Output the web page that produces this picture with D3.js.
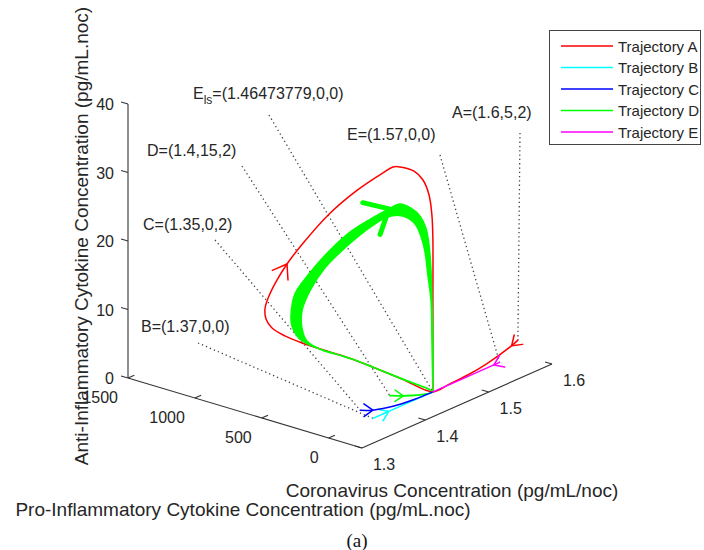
<!DOCTYPE html>
<html>
<head>
<meta charset="utf-8">
<script src="https://cdn.jsdelivr.net/npm/d3@7"></script>
<style>
body { margin: 0; background: #fff; }
text { font-family: "Liberation Sans", Arial, sans-serif; fill: #262626; }
</style>
</head>
<body>
<div id="wrapper"></div>
<script>
// axis ranges and ticks
const coronaDomain = [1.3, 1.6]
const proDomain = [-250, 1500]
const antiDomain = [0, 40]
const coronaTicks = [1.3, 1.4, 1.5, 1.6]
const proTicks = [0, 500, 1000, 1500]
const antiTicks = [0, 10, 20, 30, 40]

// trajectories, each point is [corona, pro, anti]
const trajA = [
    [1.6, 5, 2], [1.59, 4.3, 1.6], [1.55, 2, 0.6], [1.52, 1, 0.2], [1.49, 0.4, 0.05], [1.4647, 0, 0],
    [1.4647, 231, 0.54], [1.4647, 433, 0.96], [1.4647, 605, 1.27], [1.4647, 792, 1.34], [1.4647, 979, 1.42],
    [1.4647, 1106, 1.71], [1.4647, 1203, 2.3], [1.4647, 1248, 3.36], [1.4647, 1256, 4.77], [1.4647, 1241, 6.0],
    [1.4647, 1181, 8.9], [1.4647, 1091, 12.3], [1.4647, 979, 15.8], [1.4647, 777, 21.4], [1.4647, 568, 26.1],
    [1.4647, 373, 29.8], [1.4647, 298, 31.1], [1.4647, 246, 31.4], [1.4647, 141, 31.4], [1.4647, 74, 30.5],
    [1.4647, 29, 28.6], [1.4647, 7, 25.7], [1.4647, 0, 22.2], [1.4647, 0, 13], [1.4647, 0, 5], [1.4647, 0, 0]
]
const trajB = [[1.37, 0, 0], [1.395, 0, 0], [1.4647, 0, 0]]
const trajC = [[1.35, 0, 2], [1.37, 0, 1.2], [1.40, 0, 0.5], [1.435, 0, 0.1], [1.4647, 0, 0]]
const trajD = [
    [1.4, 15, 2], [1.42, 10, 1.2], [1.44, 5, 0.5], [1.4647, 0, 0],
    [1.4647, 231, 0.54], [1.4647, 433, 0.96], [1.4647, 605, 1.27], [1.4647, 680, 1.3]
]
// the many green turns make a thick band: its outer and inner edge
const trajDOuter = [
    [1.4647, 680, 1.3], [1.4647, 867, 1.34], [1.4647, 994, 1.9], [1.4647, 1054, 3.5], [1.4647, 1061, 4.9],
    [1.4647, 1031, 8.3], [1.4647, 927, 11.8], [1.4647, 777, 16.0], [1.4647, 605, 20.0], [1.4647, 455, 22.7],
    [1.4647, 328, 24.8], [1.4647, 246, 26.0], [1.4647, 156, 25.8], [1.4647, 96, 25.1], [1.4647, 52, 23.6],
    [1.4647, 29, 21.3], [1.4647, 14, 17.7], [1.4647, 7, 13.4], [1.4647, 0, 7.6], [1.4647, 0, 0]
]
const trajDInner = [
    [1.4647, 680, 1.3], [1.4647, 830, 1.27], [1.4647, 942, 1.93], [1.4647, 979, 3.6], [1.4647, 979, 6.1],
    [1.4647, 919, 9.4], [1.4647, 807, 13.4], [1.4647, 657, 17.2], [1.4647, 508, 20.5], [1.4647, 358, 23.3],
    [1.4647, 269, 24.2], [1.4647, 186, 24.3], [1.4647, 126, 23.6], [1.4647, 89, 22.2], [1.4647, 59, 20.1],
    [1.4647, 37, 16.8], [1.4647, 14, 13.3], [1.4647, 7, 7.5], [1.4647, 0, 0]
]
const trajE = [[1.57, 0, 0], [1.561, 0, 0], [1.4647, 0, 0]]

const names = ["Trajectory A", "Trajectory B", "Trajectory C", "Trajectory D", "Trajectory E"]
const colors = ["#ff0000", "#00ffff", "#0000ff", "#00ff00", "#ff00ff"]

// start points and equilibria that get a text label
const pointLabels = [
    {name: "A", text: "=(1.6,5,2)", point: [1.6, 5, 2]},
    {name: "B", text: "=(1.37,0,0)", point: [1.37, 0, 0]},
    {name: "C", text: "=(1.35,0,2)", point: [1.35, 0, 2]},
    {name: "D", text: "=(1.4,15,2)", point: [1.4, 15, 2]},
    {name: "E", text: "=(1.57,0,0)", point: [1.57, 0, 0]},
    {name: "E", sub: "ls", text: "=(1.46473779,0,0)", point: [1.46473779, 0, 0]},
]
// where each label text sits and where its dotted leader starts (pixels)
const labelLayout = [
    {tx: 452, ty: 118, lx: 520, ly: 133},
    {tx: 141, ty: 332, lx: 198, ly: 343},
    {tx: 143, ty: 230, lx: 215, ly: 240},
    {tx: 147, ty: 156, lx: 242, ly: 166},
    {tx: 347, ty: 140, lx: 440, ly: 155},
    {tx: 193, ty: 99, lx: 269, ly: 115},
]

const dimensions = {width: 704, height: 550}
const corner = {x: 362, y: 448}

const wrapper = d3.select("#wrapper")
    .append("svg")
    .attr("width", dimensions.width)
    .attr("height", dimensions.height)

// 3d -> screen: each axis moves the point along its own screen direction
const coronaX = d3.scaleLinear().domain(coronaDomain).range([0, 190])
const coronaY = d3.scaleLinear().domain(coronaDomain).range([0, -84])
const proX = d3.scaleLinear().domain(proDomain).range([0, -234])
const proY = d3.scaleLinear().domain(proDomain).range([0, -70])
const antiY = d3.scaleLinear().domain(antiDomain).range([0, -274])
const project = p => [
    corner.x + coronaX(p[0]) + proX(p[1]),
    corner.y + coronaY(p[0]) + proY(p[1]) + antiY(p[2])
]

const axisColor = "#333"
const axes = wrapper.append("g")
const cMin = coronaDomain[0], cMax = coronaDomain[1]
const pMin = proDomain[0], pMax = proDomain[1]

const seg = (a, b) => axes.append("line")
    .attr("x1", project(a)[0]).attr("y1", project(a)[1])
    .attr("x2", project(b)[0]).attr("y2", project(b)[1])
    .attr("stroke", axisColor).attr("stroke-width", 1.1)

seg([cMin, pMin, 0], [cMax, pMin, 0])
seg([cMin, pMin, 0], [cMin, pMax, 0])
seg([cMin, pMax, antiDomain[0]], [cMin, pMax, antiDomain[1]])

// ticks
coronaTicks.forEach(t => {
    seg([t, pMin, 0], [t, pMin + 52, 0])
    const p = project([t, pMin, 0])
    axes.append("text").attr("x", p[0] + 22).attr("y", p[1] + 22)
        .attr("text-anchor", "middle").attr("font-size", 16).text(t.toFixed(1))
})
proTicks.forEach(t => {
    seg([cMin, t, 0], [cMin + 0.01, t, 0])
    const p = project([cMin, t, 0])
    axes.append("text").attr("x", p[0] - 10).attr("y", p[1] + 25)
        .attr("text-anchor", "end").attr("font-size", 16).text(t)
})
antiTicks.forEach(t => {
    seg([cMin, pMax, t], [cMin, pMax + 52, t])
    const p = project([cMin, pMax, t])
    axes.append("text").attr("x", p[0] - 14).attr("y", p[1] + 6)
        .attr("text-anchor", "end").attr("font-size", 16).text(t)
})

// axis titles
wrapper.append("text").attr("x", 452).attr("y", 497)
    .attr("text-anchor", "middle").attr("font-size", 19)
    .text("Coronavirus Concentration (pg/mL/noc)")
wrapper.append("text").attr("x", 243).attr("y", 516)
    .attr("text-anchor", "middle").attr("font-size", 19)
    .text("Pro-Inflammatory Cytokine Concentration (pg/mL.noc)")
wrapper.append("text")
    .attr("transform", "translate(88,236) rotate(-90)")
    .attr("text-anchor", "middle").attr("font-size", 19)
    .text("Anti-Inflammatory Cytokine Concentration (pg/mL.noc)")
wrapper.append("text").attr("x", 357).attr("y", 547)
    .attr("text-anchor", "middle").attr("font-size", 19)
    .style("font-family", "'Liberation Serif', 'Times New Roman', serif")
    .style("fill", "#111")
    .text("(a)")

// dotted leaders and labels
const labels = wrapper.append("g")
pointLabels.forEach((d, i) => {
    const lay = labelLayout[i]
    const p = project(d.point)
    labels.append("line")
        .attr("x1", lay.lx).attr("y1", lay.ly).attr("x2", p[0]).attr("y2", p[1])
        .attr("stroke", "#444").attr("stroke-width", 1.3)
        .attr("stroke-dasharray", "1.3 3")
    const t = labels.append("text").attr("x", lay.tx).attr("y", lay.ty).attr("font-size", 16)
    t.append("tspan").text(d.name)
    if (d.sub) {
        t.append("tspan").attr("font-size", 12).attr("dy", 5).text(d.sub)
        t.append("tspan").attr("dy", -5).text(d.text)
    } else {
        t.append("tspan").text(d.text)
    }
})

// trajectories
const lineGenerator = d3.line().curve(d3.curveCatmullRom.alpha(0.5))
const bounds = wrapper.append("g").attr("fill", "none")

const drawPath = (data, color, width) => bounds.append("path")
    .attr("d", lineGenerator(data.map(project)))
    .attr("stroke", color).attr("stroke-width", width)
    .attr("stroke-linejoin", "round").attr("stroke-linecap", "round")

const drawArrow = (data, i, color, size, width, half) => {
    const a = project(data[i - 1]), b = project(data[i])
    const len = Math.hypot(b[0] - a[0], b[1] - a[1])
    const ux = (b[0] - a[0]) / len, uy = (b[1] - a[1]) / len
    const arm = s => {
        const ang = s * half * Math.PI / 180
        const rx = ux * Math.cos(ang) - uy * Math.sin(ang)
        const ry = ux * Math.sin(ang) + uy * Math.cos(ang)
        return [b[0] - size * rx, b[1] - size * ry]
    }
    bounds.append("path")
        .attr("d", d3.line()([arm(1), b, arm(-1)]))
        .attr("stroke", color).attr("stroke-width", width)
        .attr("stroke-linejoin", "round").attr("stroke-linecap", "round")
}

// A (red)
drawPath(trajA, colors[0], 1.5)
drawArrow(trajA, 1, colors[0], 11, 1.5, 35)
drawArrow(trajA, 17, colors[0], 16, 1.5, 35)

// D (green) with its band
drawPath(trajD, colors[3], 1.8)
const band = trajDOuter.concat(trajDInner.slice(1, -1).reverse())
bounds.append("path")
    .attr("d", d3.line().curve(d3.curveCatmullRomClosed.alpha(0.5))(band.map(project)))
    .attr("fill", colors[3]).attr("stroke", colors[3]).attr("stroke-width", 1.5)
drawArrow(trajD, 1, colors[3], 10, 1.5, 35)
drawArrow(trajDOuter, 10, colors[3], 27, 5, 42)

// B, C, E
drawPath(trajB, colors[1], 1.5)
drawArrow(trajB, 1, colors[1], 11, 1.5, 35)
drawPath(trajC, colors[2], 1.5)
drawArrow(trajC, 1, colors[2], 11, 1.5, 35)
drawPath(trajE, colors[4], 1.5)
drawArrow(trajE, 1, colors[4], 11, 1.5, 35)

// legend
const legend = wrapper.append("g")
legend.append("rect")
    .attr("x", 549.5).attr("y", 30.5).attr("width", 151).attr("height", 114)
    .attr("fill", "#fff").attr("stroke", "#444").attr("stroke-width", 1)
names.forEach((n, i) => {
    const y = 46 + i * 21.5
    legend.append("line")
        .attr("x1", 561).attr("x2", 613).attr("y1", y).attr("y2", y)
        .attr("stroke", colors[i]).attr("stroke-width", 1.5)
    legend.append("text").attr("x", 618).attr("y", y + 5.5)
        .attr("font-size", 15).text(n)
})
</script>
</body>
</html>
